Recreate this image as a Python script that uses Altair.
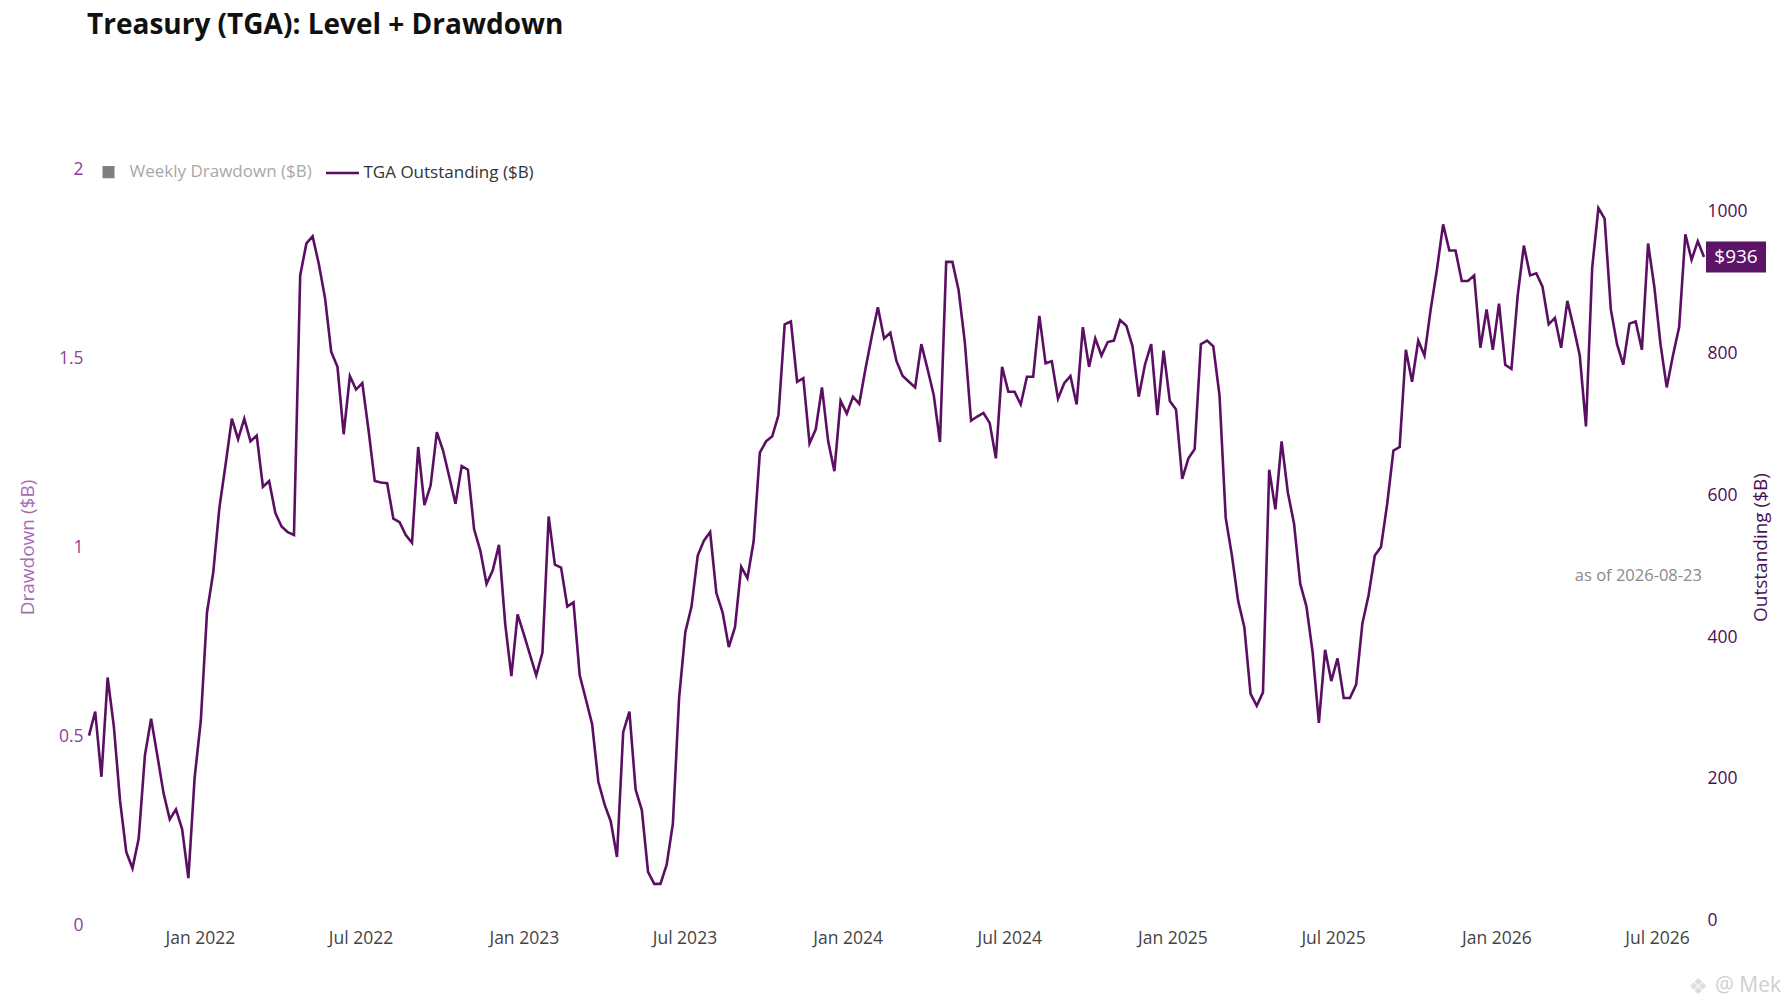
import altair as alt
import pandas as pd

# ---------------- data ----------------
TGA_NAME = "TGA Outstanding ($B)"
DD_NAME = "Weekly Drawdown ($B)"

dates = pd.date_range("2021-08-29", periods=261, freq="7D").strftime("%Y-%m-%d").tolist()

tga = [
    261, 295, 203, 343, 274, 169, 97, 74, 116, 233,
    285, 233, 180, 143, 157, 129, 60, 201, 282, 435,
    491, 583, 644, 708, 679, 708, 676, 684, 612, 620,
    575, 556, 548, 544, 910, 955, 965, 926, 878, 802,
    781, 686, 768, 749, 758, 692, 620, 618, 617, 567,
    562, 544, 533, 668, 586, 614, 689, 663, 626, 588,
    641, 636, 552, 522, 475, 494, 530, 419, 345, 432,
    404, 375, 346, 378, 570, 502, 498, 443, 449, 346,
    312, 277, 196, 164, 140, 90, 266, 295, 185, 156,
    69, 52, 52, 79, 137, 314, 407, 443, 515, 536,
    548, 462, 435, 386, 414, 499, 483, 535, 660, 676,
    683, 713, 841, 845, 760, 765, 673, 693, 752, 676,
    634, 733, 715, 739, 729, 778, 823, 865, 821, 829,
    789, 768, 760, 752, 813, 778, 741, 675, 929, 929,
    889, 816, 705, 711, 716, 702, 652, 781, 746, 746,
    728, 767, 767, 853, 786, 789, 736, 758, 768, 728,
    837, 781, 821, 797, 816, 818, 847, 839, 810, 739,
    784, 813, 713, 804, 733, 721, 623, 652, 665, 813,
    818, 810, 741, 568, 515, 451, 414, 320, 303, 322,
    636, 580, 676, 604, 560, 475, 443, 378, 279, 382,
    338, 370, 314, 314, 333, 419, 459, 515, 527, 588,
    663, 668, 805, 760, 818, 797, 862, 918, 982, 945,
    945, 902, 902, 910, 808, 862, 805, 870, 784, 778,
    881, 952, 910, 913, 894, 841, 850, 808, 874, 837,
    797, 697, 921, 1005, 990, 862, 813, 784, 842, 845,
    805, 955, 894, 813, 752, 797, 837, 968, 932, 958,
    936,
]

left_ticks = [0, 0.5, 1, 1.5, 2]
right_ticks = [0, 200, 400, 600, 800, 1000]
x_tick_months = [(2022, 1), (2022, 7), (2023, 1), (2023, 7), (2024, 1),
                 (2024, 7), (2025, 1), (2025, 7), (2026, 1), (2026, 7)]

# ---------------- styling ----------------
FONT = "Open Sans"
PURPLE = "#5a0f63"
GRAY_SYM = "#7f7f7f"
LEFT_LABEL = "#8e3f98"
LEFT_TITLE = "#a76bb6"
RIGHT_COL = "#4b0f56"
W, H = 1615, 756
PAD_L, PAD_T = 81, 161

df = pd.DataFrame({"date": dates, "tga": tga, "series": TGA_NAME})
last = pd.DataFrame({"date": [dates[-1]], "tga": [tga[-1]],
                     "label": ["$" + f"{tga[-1]:.0f}"]})
asof = pd.DataFrame({"label": ["as of " + dates[-1]]})
mark_df = pd.DataFrame({"label": ["@ Mek"]})
icon_df = pd.DataFrame({"label": ["\u2756"]})
zero_df = pd.DataFrame({"v": [0]})

def d(y, m, day=1):
    return alt.DateTime(year=y, month=m, date=day, utc=True)

xscale = alt.Scale(type="utc", domain=[d(2021, 8, 29), d(2026, 8, 23)], nice=False)
yscale_r = alt.Scale(domain=[-6, 1060], nice=False, zero=False)

xaxis = alt.Axis(values=[d(y, m) for y, m in x_tick_months], format="%b %Y",
                 labelColor="#444444", labelFontSize=17.5, labelPadding=4,
                 labelFlush=False, labelOverlap=False, title=None)

raxis = alt.Axis(orient="right", values=right_ticks, format="d",
                 labelColor=RIGHT_COL, labelFontSize=17.5, labelPadding=3,
                 labelFlush=False, titleColor=RIGHT_COL, titleFontSize=19,
                 titleFontWeight="normal", titleAngle=-90, titleX=56, titleY=H / 2,
                 titleBaseline="middle", titleAlign="center")

laxis = alt.Axis(orient="left", values=left_ticks, format="~g",
                 labelColor=LEFT_LABEL, labelFontSize=17.5, labelPadding=6,
                 labelFlush=False, titleColor=LEFT_TITLE, titleFontSize=19,
                 titleFontWeight="normal", titleAngle=-90, titleX=-62, titleY=H / 2,
                 titleBaseline="middle", titleAlign="center")

SQ = "M-0.288,-0.288H0.288V0.288H-0.288Z"
is_dd = f"datum.value === '{DD_NAME}'"
legend = alt.Legend(
    title=None, orient="none", legendX=1.5, legendY=-15, direction="horizontal",
    padding=0, columnPadding=8, labelOffset=3, labelFontSize=17, labelFont=FONT,
    labelLimit=0, symbolSize=1089, symbolStrokeWidth=2.5,
    symbolType=alt.ExprRef(expr=f"{is_dd} ? '{SQ}' : 'stroke'"),
    symbolFillColor=alt.ExprRef(expr=f"{is_dd} ? '{GRAY_SYM}' : 'transparent'"),
    labelColor=alt.ExprRef(expr=f"{is_dd} ? '#a8a8a8' : '#333333'"),
)

# left (drawdown) axis layer - the drawdown trace is hidden in the source
left = alt.Chart(zero_df).mark_rule(opacity=0).encode(
    y=alt.Y("v:Q", scale=alt.Scale(domain=[0, 2], nice=False), axis=laxis,
            title="Drawdown ($B)")
)

line = alt.Chart(df).mark_line(strokeWidth=2.6).encode(
    x=alt.X("date:T", scale=xscale, axis=xaxis),
    y=alt.Y("tga:Q", scale=yscale_r, axis=raxis, title="Outstanding ($B)"),
    color=alt.Color("series:N",
                    scale=alt.Scale(domain=[DD_NAME, TGA_NAME], range=[GRAY_SYM, PURPLE]),
                    legend=legend),
)

box = alt.Chart(last).mark_point(
    shape="M-1,-0.517H1V0.517H-1Z", filled=True, size=3600, opacity=1,
    color="#5b1466", xOffset=32
).encode(
    x=alt.X("date:T", scale=xscale),
    y=alt.Y("tga:Q", scale=yscale_r),
)

box_text = alt.Chart(last).mark_text(
    color="white", fontSize=19, font=FONT, dx=32, align="center", baseline="middle"
).encode(
    x=alt.X("date:T", scale=xscale),
    y=alt.Y("tga:Q", scale=yscale_r),
    text="label:N",
)

right_layer = alt.layer(line, box, box_text)

asof_text = alt.Chart(asof).mark_text(
    color="#8a8a8a", fontSize=16.5, font=FONT, align="right", baseline="middle"
).encode(x=alt.value(W - 2), y=alt.value(407), text="label:N")

watermark = alt.Chart(mark_df).mark_text(
    color="#cfcfcf", fontSize=21, font=FONT, align="right", baseline="middle"
).encode(x=alt.value(1692), y=alt.value(817), text="label:N")

wm_icon = alt.Chart(icon_df).mark_text(
    color="#dedede", fontSize=22, font="DejaVu Sans", align="center", baseline="middle"
).encode(x=alt.value(1609), y=alt.value(818), text="label:N")

chart = alt.layer(left, right_layer, asof_text, wm_icon, watermark).resolve_scale(
    y="independent"
).properties(
    width=W, height=H,
    title=alt.Title("Treasury (TGA): Level + Drawdown", anchor="start", frame="group",
                    offset=114, dx=-2, fontSize=28, fontWeight="bold", font=FONT,
                    color="#111111"),
    autosize=alt.AutoSizeParams(type="none"),
    padding={"left": PAD_L, "top": PAD_T, "right": 1776 - PAD_L - W, "bottom": 992 - PAD_T - H},
    background="white",
).configure_axis(
    grid=False, domain=False, ticks=False, labelFont=FONT, titleFont=FONT
).configure_view(stroke="transparent")

chart.save("out.html", embed_options={"renderer": "svg", "actions": False})
